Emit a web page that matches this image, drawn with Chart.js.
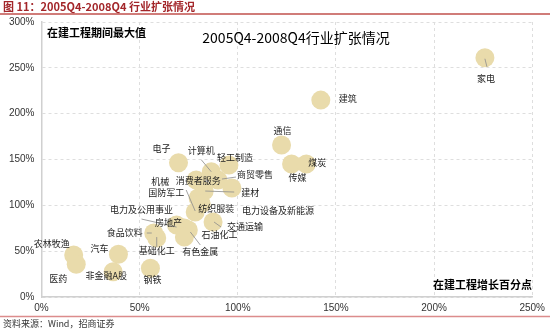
<!DOCTYPE html>
<html>
<head>
<meta charset="utf-8">
<script src="https://cdn.jsdelivr.net/npm/chart.js@4.4.0/dist/chart.umd.min.js"></script>
<style>
  html, body { margin: 0; padding: 0; background: #fff; }
  #wrap { position: relative; width: 550px; height: 332px; }
</style>
</head>
<body>
<div id="wrap"><canvas id="chart"></canvas></div>
<script>
// industry names, one bubble each
const industries = [
  "家电", "建筑", "通信", "传媒", "煤炭", "电子", "计算机", "轻工制造", "商贸零售",
  "消费者服务", "建材", "机械", "纺织服装", "国防军工", "电力设备及新能源", "交通运输",
  "电力及公用事业", "房地产", "有色金属", "石油化工", "食品饮料", "基础化工",
  "汽车", "非金融A股", "钢铁", "农林牧渔", "医药"
];
// x: 在建工程增长百分点 (%)
const buildGrowth = [
  225.9, 142.3, 122.3, 127.4, 134.9, 69.8, 86.5, 95.5, 89.9,
  78.8, 82.9, 79.8, 81.4, 78.3, 97.0, 87.4,
  68.8, 72.8, 74.8, 72.8, 57.2, 58.7,
  39.2, 36.5, 55.5, 16.4, 17.7
];
// y: 在建工程期间最大值 (%)
const buildPeak = [
  261.0, 214.8, 165.8, 145.0, 145.0, 146.5, 136.6, 143.9, 127.6,
  127.6, 115.6, 108.0, 101.4, 92.7, 118.9, 81.8,
  78.5, 75.2, 73.1, 65.4, 69.8, 64.3,
  46.6, 27.6, 31.3, 45.8, 35.7
];
const xTicks = [0, 50, 100, 150, 200, 250];
const yTicks = [0, 50, 100, 150, 200, 250, 300];

// label placement in px relative to bubble centre: [dx, dy, leader x1, y1, x2, y2]
const labelPlace = {
  "家电": [1, 21, 0, 1, 2, 9],
  "建筑": [27, -2],
  "通信": [1, -14],
  "传媒": [6, 13],
  "煤炭": [11, -2],
  "电子": [-17, -14],
  "计算机": [-10, -21, -10, -12, 0, 0],
  "轻工制造": [6, -8],
  "商贸零售": [37, -5, 18, -3, 4, -1],
  "消费者服务": [2, 1],
  "建材": [46, 2, 30, 1, 1, 0],
  "机械": [-38, -16],
  "纺织服装": [15, 5],
  "国防军工": [-29, -19, -9, -22, 0, -1],
  "电力设备及新能源": [46, 23],
  "交通运输": [32, 5, 8, 5, 1, 0],
  "电力及公用事业": [-35, -15, -35, -6, 0, 2],
  "房地产": [-16, -5],
  "有色金属": [12, 22, 12, 15, 2, 2],
  "石油化工": [35, -2],
  "食品饮料": [-29, 0, -7, 0, -2, 0],
  "基础化工": [0, 13, 0, 9, 0, -1],
  "汽车": [-19, -6],
  "非金融A股": [-7, 4],
  "钢铁": [2, 11],
  "农林牧渔": [-22, -11],
  "医药": [-18, 14]
};

const cjk = '"Noto Sans CJK SC", "Noto Sans", sans-serif';

const bubbleLabels = {
  id: 'bubbleLabels',
  afterDatasetsDraw(chart) {
    const ctx = chart.ctx;
    const meta = chart.getDatasetMeta(0);
    ctx.save();
    meta.data.forEach((pt, i) => {
      const p = labelPlace[industries[i]];
      if (!p) return;
      if (p.length > 2) {
        ctx.strokeStyle = '#8c8c8c';
        ctx.lineWidth = 0.8;
        ctx.beginPath();
        ctx.moveTo(pt.x + p[2], pt.y + p[3]);
        ctx.lineTo(pt.x + p[4], pt.y + p[5]);
        ctx.stroke();
      }
      ctx.fillStyle = '#222';
      ctx.font = '9px ' + cjk;
      ctx.textAlign = 'center';
      ctx.textBaseline = 'middle';
      ctx.fillText(industries[i], pt.x + p[0], pt.y + p[1]);
    });
    ctx.restore();
  },
  afterDraw(chart) {
    const ctx = chart.ctx;
    const w = chart.width;
    ctx.save();
    // figure title + rule
    ctx.fillStyle = '#a3262a';
    ctx.font = 'bold 11px ' + cjk;
    ctx.textAlign = 'left';
    ctx.textBaseline = 'middle';
    ctx.fillText('图 11：2005Q4-2008Q4 行业扩张情况', 3, 7);
    ctx.strokeStyle = '#c0504d';
    ctx.lineWidth = 1.5;
    ctx.beginPath(); ctx.moveTo(0, 14); ctx.lineTo(w, 14); ctx.stroke();
    // source rule + text
    ctx.strokeStyle = '#dc8c8c';
    ctx.beginPath(); ctx.moveTo(0, 316.5); ctx.lineTo(w, 316.5); ctx.stroke();
    ctx.fillStyle = '#333';
    ctx.font = '9px ' + cjk;
    ctx.fillText('资料来源：Wind，招商证券', 3, 324);
    // in-plot captions
    ctx.fillStyle = '#000';
    ctx.font = 'bold 11px ' + cjk;
    ctx.fillText('在建工程期间最大值', 47, 33);
    ctx.textAlign = 'right';
    ctx.fillText('在建工程增长百分点', 532, 285);
    ctx.textAlign = 'center';
    ctx.font = '14px ' + cjk;
    ctx.fillText('2005Q4-2008Q4行业扩张情况', 296, 38);
    ctx.restore();
  }
};

const tickFont = { family: '"Liberation Sans", Arial, sans-serif', size: 10 };

new Chart(document.getElementById('chart'), {
  type: 'bubble',
  data: {
    datasets: [{
      data: industries.map((n, i) => ({ x: buildGrowth[i], y: buildPeak[i] })),
      backgroundColor: '#e9dbab',
      borderWidth: 0,
      radius: 9.5
    }]
  },
  options: {
    responsive: true,
    maintainAspectRatio: false,
    animation: false,
    events: [],
    layout: { padding: { top: 22, right: 13, left: 0, bottom: 0 } },
    scales: {
      x: {
        type: 'linear',
        min: 0,
        max: 250,
        afterBuildTicks: (s) => { s.ticks = xTicks.map(v => ({ value: v })); },
        afterFit: (s) => { s.height = 35; },
        ticks: {
          padding: 5,
          color: '#333',
          font: tickFont,
          maxRotation: 0,
          callback: (v) => v + '%'
        },
        grid: { color: '#dedede', lineWidth: 1, drawTicks: false },
        border: { display: true, color: '#d0d0d0', width: 1.5, dash: [3, 3] }
      },
      y: {
        type: 'linear',
        min: 0,
        max: 300,
        afterBuildTicks: (s) => { s.ticks = yTicks.map(v => ({ value: v })); },
        afterFit: (s) => { s.width = 41.5; },
        ticks: {
          padding: 7,
          color: '#333',
          font: tickFont,
          callback: (v) => v + '%'
        },
        grid: { color: '#dedede', lineWidth: 1, drawTicks: false },
        border: { display: true, color: '#d0d0d0', width: 1.5, dash: [3, 3] }
      }
    },
    plugins: {
      legend: { display: false },
      tooltip: { enabled: false },
      title: { display: false }
    }
  },
  plugins: [bubbleLabels]
});
</script>
</body>
</html>
